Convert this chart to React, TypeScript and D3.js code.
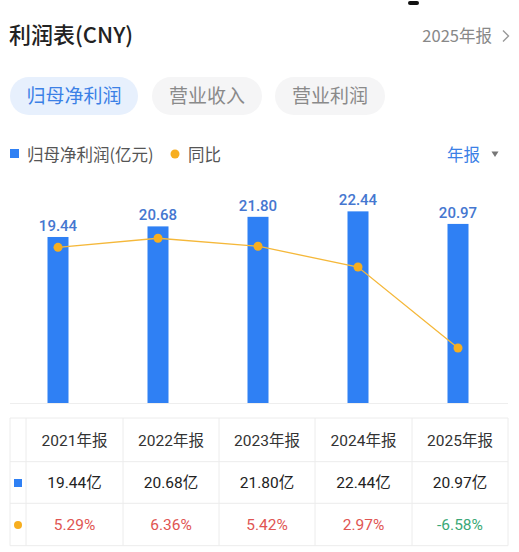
import { scaleBand, scaleLinear, line } from "d3";

const years = ["2021年报", "2022年报", "2023年报", "2024年报", "2025年报"];
const profit = [19.44, 20.68, 21.8, 22.44, 20.97];
const growth = [5.29, 6.36, 5.42, 2.97, -6.58];
const tabs = ["归母净利润", "营业收入", "营业利润"];

const FONT = "Roboto, 'Noto Sans CJK SC', sans-serif";
const CJK = "'Noto Sans CJK SC', sans-serif";
const BLUE = "#2f80f4";
const ORANGE = "#f7ae1f";

export default function App() {
    const width = 519;
    const height = 552;

    const scaleX = scaleBand<string>()
        .domain(years)
        .range([8, 508])
        .paddingInner(0)
        .paddingOuter(0);
    const barWidth = 21;
    const cx = (y: string) => (scaleX(y) ?? 0) + scaleX.bandwidth() / 2;

    const scaleY = scaleLinear().domain([0, 25]).range([403, 189.5]);
    const scaleG = scaleLinear().domain([-10, 10]).range([377, 207.4]);

    const growthLine = line<number>()
        .x((_, i) => cx(years[i]))
        .y((d) => scaleG(d));

    // table geometry
    const tableX = [10, 26, 123, 219, 315, 412, 508];
    const rowY = [418, 461.7, 503.3, 545.7];

    const tabPos = [
        { x: 10, w: 128 },
        { x: 152, w: 110 },
        { x: 275, w: 110 },
    ];

    return (
        <svg
            width={width}
            height={height}
            style={{ position: "absolute", left: 0, top: 0, background: "#fff" }}
        >
            <rect x={408} y={1} width={11} height={4} rx={2} fill="#111" />

            <text x={9} y={43} fontSize={22} fontWeight={500} fill="#222" fontFamily={CJK}>
                利润表(CNY)
            </text>
            <text x={492} y={42} fontSize={16.5} fill="#888" textAnchor="end" fontFamily={CJK}>
                2025年报
            </text>
            <path d="M503,30.5 L508.5,36 L503,41.5" fill="none" stroke="#999" strokeWidth={1.4} />

            {tabs.map((t, i) => (
                <g key={t}>
                    <rect
                        x={tabPos[i].x}
                        y={77}
                        width={tabPos[i].w}
                        height={38}
                        rx={19}
                        fill={i === 0 ? "#e7f0fd" : "#f5f5f6"}
                    />
                    <text
                        x={tabPos[i].x + tabPos[i].w / 2}
                        y={103}
                        textAnchor="middle"
                        fontSize={19}
                        fill={i === 0 ? "#3b80e6" : "#8a8a8a"}
                        fontFamily={CJK}
                    >
                        {t}
                    </text>
                </g>
            ))}

            <rect x={10} y={149} width={9} height={9} fill={BLUE} />
            <text x={27} y={160.5} fontSize={16.5} fill="#555" fontFamily={CJK}>
                归母净利润(亿元)
            </text>
            <circle cx={175} cy={154} r={4.5} fill={ORANGE} />
            <text x={188} y={160.5} fontSize={16.5} fill="#555" fontFamily={CJK}>
                同比
            </text>
            <text x={447} y={160.5} fontSize={16.5} fill="#3b80e6" fontFamily={CJK}>
                年报
            </text>
            <path d="M491.5,151.5 L498.5,151.5 L495,157 Z" fill="#777" />

            <line x1={10} x2={508} y1={403.5} y2={403.5} stroke="#eeeeee" />

            {profit.map((v, i) => (
                <g key={`bar-${years[i]}`}>
                    <rect
                        x={cx(years[i]) - barWidth / 2}
                        y={scaleY(v)}
                        width={barWidth}
                        height={scaleY(0) - scaleY(v)}
                        fill={BLUE}
                    />
                    <text
                        x={cx(years[i])}
                        y={scaleY(v) - 6}
                        textAnchor="middle"
                        fontSize={15}
                        fontWeight={500}
                        fill="#4577d0"
                        fontFamily={FONT}
                    >
                        {v.toFixed(2)}
                    </text>
                </g>
            ))}

            <path d={growthLine(growth) ?? ""} fill="none" stroke="#f5b83a" strokeWidth={1.3} />
            {growth.map((g, i) => (
                <circle key={`dot-${years[i]}`} cx={cx(years[i])} cy={scaleG(g)} r={4.5} fill={ORANGE} />
            ))}

            {/* table */}
            {rowY.map((y) => (
                <line key={`h-${y}`} x1={10} x2={508} y1={y} y2={y} stroke="#ececec" />
            ))}
            {tableX.map((x) => (
                <line key={`v-${x}`} x1={x} x2={x} y1={rowY[0]} y2={rowY[3]} stroke="#ececec" />
            ))}

            {years.map((y, i) => {
                const mid = (tableX[i + 1] + tableX[i + 2]) / 2;
                return (
                    <g key={`col-${y}`}>
                        <text x={mid} y={446} textAnchor="middle" fontSize={15.5} fill="#333" fontFamily={FONT}>
                            {y}
                        </text>
                        <text x={mid} y={488} textAnchor="middle" fontSize={15.5} fill="#222" fontFamily={FONT}>
                            {profit[i].toFixed(2)}亿
                        </text>
                        <text
                            x={mid}
                            y={530}
                            textAnchor="middle"
                            fontSize={15.5}
                            fill={growth[i] >= 0 ? "#e05552" : "#3aa876"}
                            fontFamily={FONT}
                        >
                            {growth[i].toFixed(2)}%
                        </text>
                    </g>
                );
            })}
            <rect x={14} y={479} width={8} height={8} fill={BLUE} />
            <circle cx={18} cy={525} r={4} fill={ORANGE} />
        </svg>
    );
}
